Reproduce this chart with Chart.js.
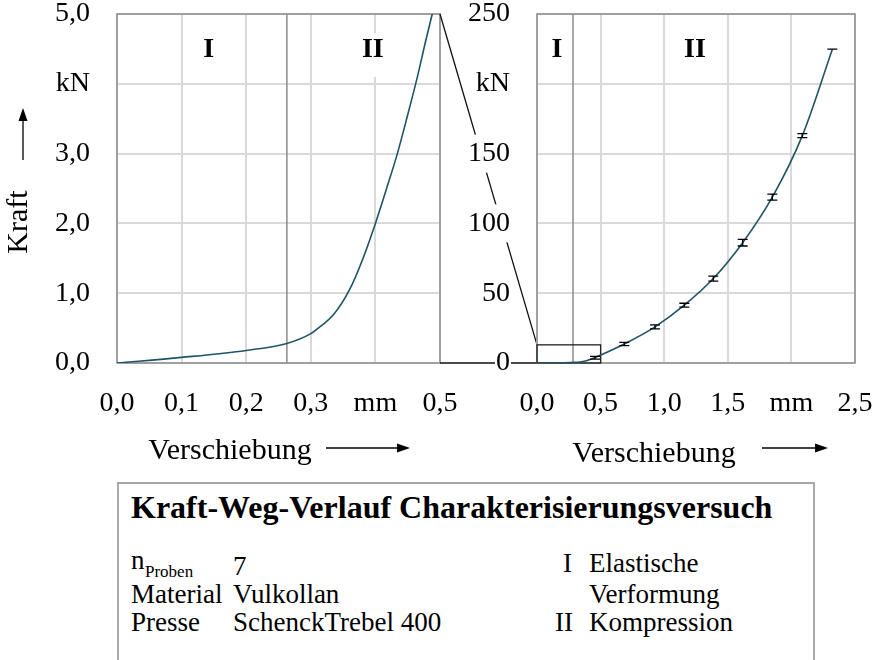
<!DOCTYPE html>
<html lang="de">
<head>
<meta charset="UTF-8">
<title>Kraft-Weg-Verlauf</title>
<script src="https://cdn.jsdelivr.net/npm/chart.js@4.4.1/dist/chart.umd.min.js"></script>
<style>
  body { margin: 0; background: #fff; }
  #wrap { position: relative; width: 875px; height: 660px; overflow: hidden; font-family: 'Liberation Serif', serif; color: #000; }
  #links { position: absolute; left: 0; top: -27px; }
  #rechts { position: absolute; left: 430px; top: -27px; }
  #info { position: absolute; left: 117px; top: 482px; width: 694px; height: 240px; border: 2px solid #a8a8a8; }
  .t { position: absolute; white-space: nowrap; line-height: 1; }
</style>
</head>
<body>
<div id="wrap">
  <canvas id="links" width="490" height="507"></canvas>
  <canvas id="rechts" width="475" height="507"></canvas>
  <div id="info"></div>
</div>

<script>
// Ausschnitt 0 ... 0,5 mm (Verschiebung in mm, Kraft in kN)
const wegDetail   = [0, 0.1, 0.2, 0.263, 0.3, 0.317, 0.335, 0.36, 0.38, 0.4, 0.418, 0.434, 0.449, 0.465, 0.478, 0.488];
const kraftDetail = [0, 0.08, 0.18, 0.28, 0.42, 0.54, 0.69, 1.05, 1.48, 2.0, 2.52, 3.0, 3.52, 4.1, 4.62, 5.0];

// Messpunkte mit Streuung (7 Proben)
const wegVersuch    = [0.456, 0.686, 0.928, 1.158, 1.386, 1.617, 1.85, 2.086, 2.322];
const kraftMittel   = [3.8, 13.6, 25.9, 41.4, 60.5, 86.2, 118.8, 162.9, 224.8];
const kraftStreuung = [1.0, 1.2, 1.4, 1.4, 1.8, 2.4, 2.1, 1.4, 0];

// Achsbeschriftungen
const wegTicksLinks    = ['0,0', '0,1', '0,2', '0,3', 'mm', '0,5'];
const kraftTicksLinks  = ['0,0', '1,0', '2,0', '3,0', 'kN', '5,0'];
const wegTicksRechts   = ['0,0', '0,5', '1,0', '1,5', 'mm', '2,5'];
const kraftTicksRechts = ['0', '50', '100', '150', 'kN', '250'];

// Phasengrenze (mm) und vergrößerter Bereich
const grenzeLinks = 0.263;
const grenzeRechts = 0.283;
const ausschnittWeg = 0.5;
const ausschnittKraft = 13;

// Legende
const phasenNr = ['I', 'II'];
const phasenText = [['Elastische', 'Verformung'], ['Kompression']];
const infoNamen = ['Material', 'Presse'];
const infoWerte = ['7', 'Vulkollan', 'SchenckTrebel 400'];

const kurvenFarbe = '#1f5467';
const gitterFarbe = '#d9d9d9';
const rahmenFarbe = '#8c8c8c';
const schrift = '"Liberation Serif", serif';
const tickFont = { family: 'Liberation Serif', size: 28, lineHeight: 1 };
const oben = 27; // Canvas beginnt 27 px oberhalb der Seite

const punkte = (xs, ys) => xs.map((v, i) => ({ x: v, y: ys[i] }));

function pfeil(ctx, x1, y1, x2, y2) {
  const w = Math.atan2(y2 - y1, x2 - x1), l = 13, b = 4.5;
  const c = Math.cos(w), s = Math.sin(w);
  ctx.beginPath();
  ctx.moveTo(x1, y1);
  ctx.lineTo(x2 - l * 0.8 * c, y2 - l * 0.8 * s);
  ctx.stroke();
  ctx.beginPath();
  ctx.moveTo(x2, y2);
  ctx.lineTo(x2 - l * c + b * s, y2 - l * s - b * c);
  ctx.lineTo(x2 - l * c - b * s, y2 - l * s + b * c);
  ctx.closePath();
  ctx.fill();
}

// Gitter aus den Achsenticks
function gitter(chart) {
  const { ctx, chartArea: a, scales: { x, y } } = chart;
  ctx.save();
  ctx.strokeStyle = gitterFarbe;
  ctx.lineWidth = 2;
  ctx.beginPath();
  x.ticks.forEach(t => {
    const px = Math.round(x.getPixelForValue(t.value));
    ctx.moveTo(px, a.top); ctx.lineTo(px, a.bottom);
  });
  y.ticks.forEach(t => {
    const py = Math.round(y.getPixelForValue(t.value));
    ctx.moveTo(a.left, py); ctx.lineTo(a.right, py);
  });
  ctx.stroke();
  ctx.restore();
}

// Rahmen, Phasengrenze und Phasenbezeichnung I / II
function rahmenUndPhasen(chart, grenze, posI, posII, hoehe) {
  const { ctx, chartArea: a, scales: { x, y } } = chart;
  gitter(chart);
  ctx.save();
  ctx.font = 'bold 28px ' + schrift;
  ctx.textAlign = 'center';
  ctx.textBaseline = 'middle';
  [posI, posII].forEach((p, i) => {
    const px = x.getPixelForValue(p), py = y.getPixelForValue(hoehe);
    const bw = ctx.measureText(phasenNr[i]).width + 6;
    ctx.fillStyle = '#fff';
    ctx.fillRect(px - bw / 2, py - 16, bw, 44);
    ctx.fillStyle = '#000';
    ctx.fillText(phasenNr[i], px, py + 1);
  });
  ctx.strokeStyle = rahmenFarbe;
  ctx.lineWidth = 1.5;
  const gx = x.getPixelForValue(grenze);
  ctx.beginPath();
  ctx.moveTo(gx, a.top);
  ctx.lineTo(gx, a.bottom);
  ctx.stroke();
  ctx.strokeRect(a.left, a.top, a.width, a.height);
  ctx.restore();
}

function achsTitelX(ctx, mitte, basis, pfeilVon, pfeilBis, pfeilY) {
  ctx.save();
  ctx.fillStyle = '#000';
  ctx.strokeStyle = '#000';
  ctx.lineWidth = 1.3;
  ctx.font = '30px ' + schrift;
  ctx.textAlign = 'center';
  ctx.textBaseline = 'alphabetic';
  ctx.fillText('Verschiebung', mitte, basis + oben);
  pfeil(ctx, pfeilVon, pfeilY + oben, pfeilBis, pfeilY + oben);
  ctx.restore();
}

function achsen(max, schritt, labels, breite, hoehe, backdrop) {
  const tick = liste => ({
    padding: 27, maxRotation: 0, autoSkip: false, color: '#000', font: tickFont,
    showLabelBackdrop: backdrop, backdropColor: '#fff', backdropPadding: { x: 1, y: 5 },
    callback: (v, i) => liste[i]
  });
  const ohneGitter = { display: false, drawTicks: false };
  return {
    x: { type: 'linear', min: 0, max: max.x, afterFit: s => { s.height = hoehe; },
         ticks: { ...tick(labels.x), stepSize: schritt.x },
         grid: ohneGitter, border: { display: false } },
    y: { type: 'linear', min: 0, max: max.y, afterFit: s => { s.width = breite; },
         ticks: { ...tick(labels.y), stepSize: schritt.y },
         grid: ohneGitter, border: { display: false } }
  };
}

const basisOptionen = {
  responsive: false,
  animation: false,
  events: [],
  plugins: { legend: { display: false }, tooltip: { enabled: false } }
};

// linkes Diagramm: Ausschnitt bis 5 kN
const diagrammLinks = new Chart(document.getElementById('links'), {
  type: 'line',
  data: {
    datasets: [{
      data: punkte(wegDetail, kraftDetail),
      borderColor: kurvenFarbe, borderWidth: 1.6, pointRadius: 0,
      cubicInterpolationMode: 'monotone'
    }]
  },
  options: {
    ...basisOptionen,
    layout: { padding: { left: 0, right: 50, top: 13, bottom: 57 } },
    scales: achsen({ x: 0.5, y: 5 }, { x: 0.1, y: 1 },
                   { x: wegTicksLinks, y: kraftTicksLinks }, 117, 60, false)
  },
  plugins: [{
    id: 'zeichnungLinks',
    beforeDatasetsDraw(chart) {
      rahmenUndPhasen(chart, grenzeLinks, 0.142, 0.396, 4.5);
    },
    afterDraw(chart) {
      const ctx = chart.ctx;
      ctx.save();
      ctx.fillStyle = '#000';
      ctx.translate(19, 222 + oben);
      ctx.rotate(-Math.PI / 2);
      ctx.font = '30px ' + schrift;
      ctx.textAlign = 'center';
      ctx.textBaseline = 'middle';
      ctx.fillText('Kraft', 0, 0);
      ctx.restore();
      ctx.save();
      ctx.fillStyle = '#000';
      ctx.strokeStyle = '#000';
      ctx.lineWidth = 1.3;
      pfeil(ctx, 23, 160 + oben, 23, 108 + oben);
      ctx.restore();
      achsTitelX(ctx, 230, 459, 326, 410, 448);
    }
  }]
});

// rechtes Diagramm: gesamter Versuch
const kurveRechts = punkte(wegDetail.filter(w => w < wegVersuch[0]), kraftDetail)
  .concat(punkte(wegVersuch, kraftMittel));

new Chart(document.getElementById('rechts'), {
  type: 'line',
  data: {
    datasets: [{
      data: kurveRechts,
      borderColor: kurvenFarbe, borderWidth: 1.6, pointRadius: 0,
      cubicInterpolationMode: 'monotone'
    }]
  },
  options: {
    ...basisOptionen,
    layout: { padding: { left: 0, right: 50, top: 13, bottom: 57 } },
    scales: achsen({ x: 2.5, y: 250 }, { x: 0.5, y: 50 },
                   { x: wegTicksRechts, y: kraftTicksRechts }, 107, 60, true)
  },
  plugins: [{
    id: 'zeichnungRechts',
    beforeDraw(chart) {
      // Verbindungslinien vom linken Ausschnitt zum markierten Bereich
      const { ctx, scales: { x, y } } = chart;
      const la = diagrammLinks.chartArea;
      const versatz = diagrammLinks.canvas.offsetLeft - chart.canvas.offsetLeft;
      const xl = la.right + versatz;
      ctx.save();
      ctx.strokeStyle = '#111';
      ctx.lineWidth = 1.3;
      ctx.beginPath();
      ctx.moveTo(xl, la.top);
      ctx.lineTo(x.getPixelForValue(0), y.getPixelForValue(ausschnittKraft));
      ctx.moveTo(xl, la.bottom);
      ctx.lineTo(x.getPixelForValue(0), y.getPixelForValue(0));
      ctx.stroke();
      ctx.restore();
    },
    beforeDatasetsDraw(chart) {
      rahmenUndPhasen(chart, grenzeRechts, 0.157, 1.242, 225);
      const { ctx, scales: { x, y } } = chart;
      ctx.save();
      ctx.strokeStyle = '#222';
      ctx.lineWidth = 1.3;
      const x0 = x.getPixelForValue(0), x1 = x.getPixelForValue(ausschnittWeg);
      const y0 = y.getPixelForValue(0), y1 = y.getPixelForValue(ausschnittKraft);
      ctx.strokeRect(x0, y1, x1 - x0, y0 - y1);
      ctx.restore();
    },
    afterDatasetsDraw(chart) {
      // Fehlerbalken
      const { ctx, scales: { x, y } } = chart;
      ctx.save();
      ctx.strokeStyle = '#000';
      ctx.lineWidth = 1.3;
      wegVersuch.forEach((w, i) => {
        const px = x.getPixelForValue(w);
        const ob = y.getPixelForValue(kraftMittel[i] + kraftStreuung[i]);
        const un = y.getPixelForValue(kraftMittel[i] - kraftStreuung[i]);
        ctx.beginPath();
        ctx.moveTo(px, ob); ctx.lineTo(px, un);
        ctx.moveTo(px - 5, ob); ctx.lineTo(px + 5, ob);
        ctx.moveTo(px - 5, un); ctx.lineTo(px + 5, un);
        ctx.stroke();
      });
      ctx.restore();
    },
    afterDraw(chart) {
      achsTitelX(chart.ctx, 224, 462, 332, 398, 448);
    }
  }]
});

// Legendenkasten
const wrap = document.getElementById('wrap');
function text(inhalt, x, basis, groesse, fett) {
  const el = document.createElement('span');
  el.className = 't';
  el.textContent = inhalt;
  el.style.left = x + 'px';
  el.style.top = (basis - 0.8375 * groesse) + 'px';
  el.style.fontSize = groesse + 'px';
  if (fett) el.style.fontWeight = 'bold';
  wrap.appendChild(el);
}
text('Kraft-Weg-Verlauf Charakterisierungsversuch', 131, 518, 32, true);
text('n', 131, 570, 27);
text('Proben', 145, 577, 17);
text(infoNamen[0], 131, 604, 27);
text(infoNamen[1], 131, 632, 27);
text(infoWerte[0], 233, 576, 27);
text(infoWerte[1], 233, 604, 27);
text(infoWerte[2], 233, 632, 27);
text(phasenNr[0], 563, 573, 27);
text(phasenText[0][0], 589, 573, 27);
text(phasenText[0][1], 589, 604, 27);
text(phasenNr[1], 555, 632, 27);
text(phasenText[1][0], 589, 632, 27);
</script>
</body>
</html>
